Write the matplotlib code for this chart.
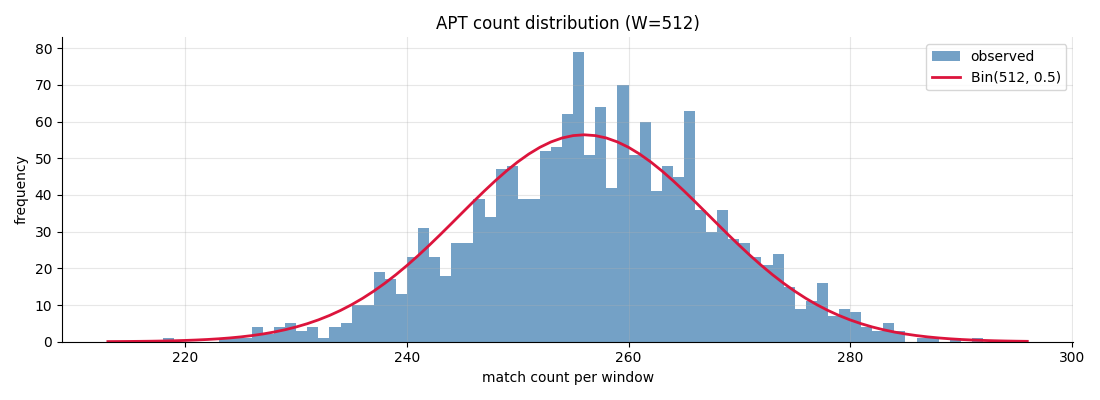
#!/usr/bin/env python3
"""APT count histogram vs Bin(512, 0.5) expectation."""
from math import lgamma, log, exp

import matplotlib

matplotlib.use("Agg")
import matplotlib.pyplot as plt
import numpy as np

W = 512
P = 0.5

# observed match counts per window (value -> frequency)
count_values = np.arange(218, 292)
count_freqs = np.array([
    1, 0, 0, 0, 0, 1, 1, 1, 4, 2,          # 218-227
    4, 5, 3, 4, 1, 4, 5, 10, 10, 19,       # 228-237
    17, 13, 23, 31, 23, 18, 27, 27, 39, 34,  # 238-247
    47, 48, 39, 39, 52, 53, 62, 79, 51, 64,  # 248-257
    42, 70, 51, 60, 41, 48, 45, 63, 36, 30,  # 258-267
    36, 28, 27, 23, 21, 24, 15, 9, 11, 16,   # 268-277
    7, 9, 8, 4, 3, 5, 3, 0, 1, 1,            # 278-287
    0, 1, 0, 1,                              # 288-291
])

# expected curve drawn over the observed range padded by 5
curve_lo, curve_hi = 213, 296


def binom_pmf(k, n, p):
    return exp(lgamma(n + 1) - lgamma(k + 1) - lgamma(n - k + 1) + k * log(p) + (n - k) * log(1 - p))


def main():
    n_total = count_freqs.sum()
    xs = np.arange(curve_lo, curve_hi + 1)
    expected = np.array([binom_pmf(k, W, P) for k in xs]) * n_total

    fig, ax = plt.subplots(figsize=(11, 4), dpi=100)
    edges = np.arange(count_values[0], count_values[-1] + 2)
    ax.hist(count_values, bins=edges, weights=count_freqs, color="steelblue", alpha=0.75, label="observed")
    ax.plot(xs, expected, color="crimson", lw=2, label=f"Bin({W}, {P})")
    ax.set_title(f"APT count distribution (W={W})")
    ax.set_xlabel("match count per window")
    ax.set_ylabel("frequency")
    ax.grid(alpha=0.3)
    ax.spines["top"].set_visible(False)
    ax.spines["right"].set_visible(False)
    ax.legend(loc="upper right")
    fig.tight_layout()
    fig.savefig("out.png", dpi=100)
    plt.close(fig)


if __name__ == "__main__":
    main()
